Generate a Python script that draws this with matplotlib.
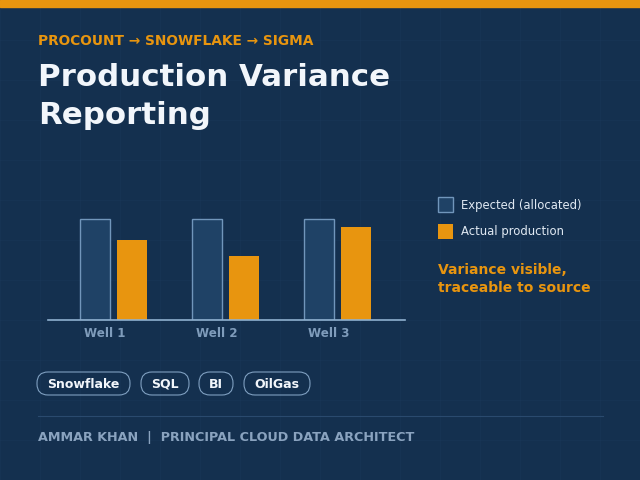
import matplotlib
matplotlib.use("Agg")
import matplotlib.pyplot as plt
from matplotlib.patches import FancyBboxPatch, Rectangle
import numpy as np

# data
wells = ["Well 1", "Well 2", "Well 3"]
expected = [101, 101, 101]
actual = [80, 64, 93]
tags = ["Snowflake", "SQL", "BI", "OilGas"]

BG = "#14304f"
ORANGE = "#e8950f"
EXP_FILL = "#1f4266"
EXP_EDGE = "#7196bb"
LIGHT = "#dfe8f2"
MUTED = "#8aa3bf"

fig = plt.figure(figsize=(6.4, 4.8), dpi=100, facecolor=BG)

# full-figure canvas in pixel units (y down)
bg = fig.add_axes([0, 0, 1, 1])
bg.set_xlim(0, 640)
bg.set_ylim(480, 0)
bg.axis("off")
bg.set_facecolor(BG)

# faint grid
for gx in np.arange(0, 641, 40):
    bg.axvline(gx, color="#1c3a5c", lw=0.8, alpha=0.35, zorder=0)
for gy in np.arange(0, 481, 40):
    bg.axhline(gy, color="#1c3a5c", lw=0.8, alpha=0.35, zorder=0)

bg.add_patch(Rectangle((0, 0), 640, 7, color=ORANGE, zorder=2))

bg.text(38, 41, "PROCOUNT \u2192 SNOWFLAKE \u2192 SIGMA", color=ORANGE,
        fontsize=9.9, fontweight="bold", va="center", ha="left")
bg.text(38, 77, "Production Variance", color="#f2f6fb", fontsize=22.2,
        fontweight="bold", va="center", ha="left")
bg.text(38, 115, "Reporting", color="#f2f6fb", fontsize=22.2,
        fontweight="bold", va="center", ha="left")

# legend
bg.add_patch(Rectangle((438, 197), 15, 15, facecolor=EXP_FILL,
                       edgecolor=EXP_EDGE, lw=1, zorder=3))
bg.text(461, 205, "Expected (allocated)", color=LIGHT, fontsize=8.4,
        va="center", ha="left")
bg.add_patch(Rectangle((438, 224), 15, 15, facecolor=ORANGE,
                       edgecolor="none", zorder=3))
bg.text(461, 232, "Actual production", color=LIGHT, fontsize=8.4,
        va="center", ha="left")
bg.text(438, 270, "Variance visible,", color=ORANGE, fontsize=10,
        fontweight="bold", va="center", ha="left")
bg.text(438, 288, "traceable to source", color=ORANGE, fontsize=10,
        fontweight="bold", va="center", ha="left")

# tag pills
tag_x = [37, 141, 199, 244]
tag_w = [93, 48, 34, 66]
for t, x, w in zip(tags, tag_x, tag_w):
    bg.add_patch(FancyBboxPatch((x, 372), w, 23,
                                boxstyle="round,pad=0,rounding_size=11",
                                facecolor="none", edgecolor="#7f9fc0",
                                lw=0.8))
    bg.text(x + w / 2, 384, t, color="#f2f6fb", fontsize=9,
            fontweight="bold", va="center", ha="center")

bg.plot([38, 603], [416, 416], color="#2a4a6e", lw=0.8)
bg.text(38, 437, "AMMAR KHAN  |  PRINCIPAL CLOUD DATA ARCHITECT",
        color=MUTED, fontsize=9.15, fontweight="bold", va="center", ha="left")

# bar chart: x 48..405 px, baseline at y=320, 1 unit = 1 px
ax = fig.add_axes([48 / 640, (480 - 320) / 480, 357 / 640, 120 / 480])
ax.set_facecolor("none")
x = np.arange(len(wells))
step = 112.0
w = 30 / step
off = 18.75 / step
ax.bar(x - off, expected, width=w, color=EXP_FILL, edgecolor=EXP_EDGE,
       linewidth=1)
ax.bar(x + off, actual, width=w, color=ORANGE, edgecolor="none")
ax.set_xlim((48 - 113.25) / step, (405 - 113.25) / step)
ax.set_ylim(0, 120)
for s in ["top", "right", "left"]:
    ax.spines[s].set_visible(False)
ax.spines["bottom"].set_color("#8fb0cf")
ax.spines["bottom"].set_linewidth(1.2)
ax.set_yticks([])
ax.set_xticks(x - 0.08)
ax.set_xticklabels(wells, color="#7f9cbb", fontsize=8.6, fontweight="bold")
ax.tick_params(axis="x", length=0, pad=5)

fig.savefig("out.png", dpi=100, facecolor=BG)
